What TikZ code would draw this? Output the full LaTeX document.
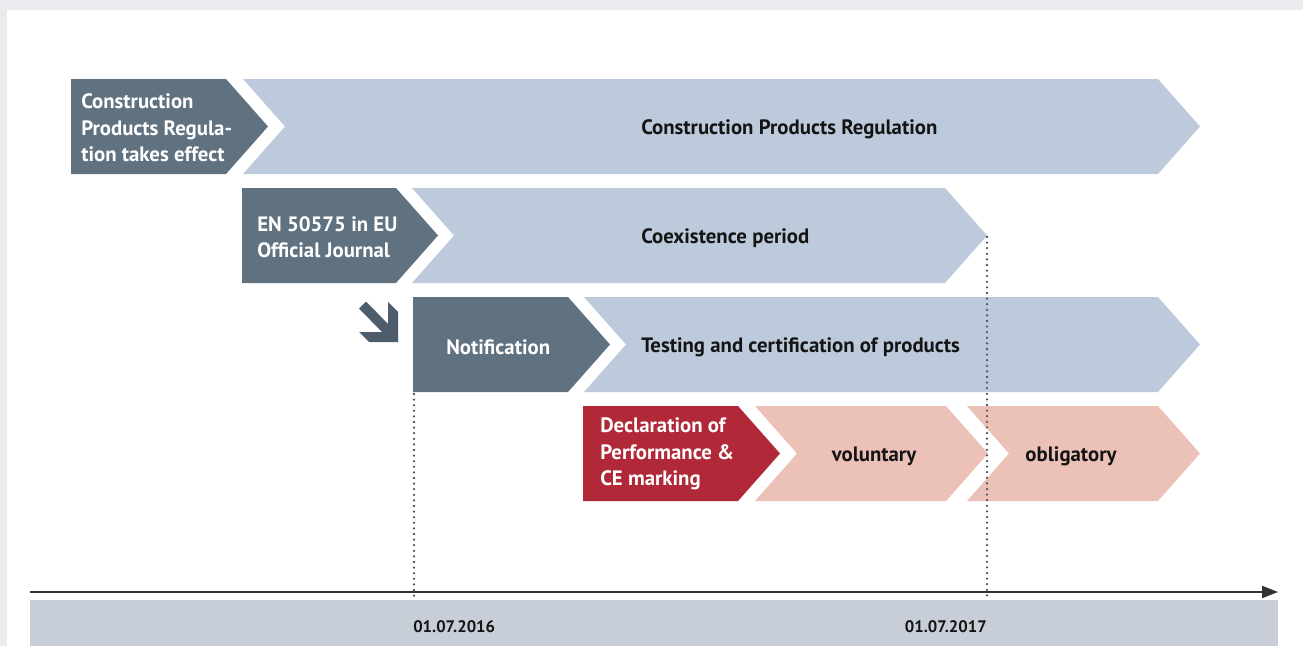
\documentclass[tikz,border=0pt]{standalone}
\usepackage{fontspec}
\setmainfont{PT Sans}
\usetikzlibrary{arrows.meta}

\begin{document}
\begin{tikzpicture}[x=0.75pt,y=0.75pt,yscale=-1,xscale=1,
    darkstep/.style={fill={rgb, 255:red, 96; green, 113; blue, 128 }},
    lightstep/.style={fill={rgb, 255:red, 189; green, 202; blue, 219 }},
    redstep/.style={fill={rgb, 255:red, 177; green, 41; blue, 56 }},
    pinkstep/.style={fill={rgb, 255:red, 236; green, 193; blue, 184 }},
    whitetxt/.style={inner sep=0.75pt, align=left, text=white, font=\fontsize{15.6}{19.8}\selectfont\bfseries},
    blacktxt/.style={inner sep=0.75pt, text={rgb, 255:red, 20; green, 20; blue, 20 }, font=\fontsize{15.6}{19.8}\selectfont\bfseries},
    datetxt/.style={inner sep=0pt, text={rgb, 255:red, 20; green, 20; blue, 20 }, font=\fontsize{12.5}{15}\selectfont\bfseries},
    guide/.style={draw={rgb, 255:red, 74; green, 86; blue, 102 }, line width=1.9pt, line cap=round, dash pattern=on 0pt off 4.2pt},
    timeaxis/.style={draw={rgb, 255:red, 51; green, 51; blue, 51 }, line width=1.5pt, -{Triangle[length=12pt,width=9pt]}}
  ]
  \useasboundingbox (0,0) rectangle (1303,646);

  %Shape: Rectangle [background]
  \fill [fill={rgb, 255:red, 233; green, 235; blue, 239 }] (0,0) rectangle (1303,646);
  \fill [white] (7,10) rectangle (1303,646);

  %Shape: Polygon [row 1]
  \fill [darkstep] (71,79) -- (226,79) -- (268,126.5) -- (226,174) -- (71,174) -- cycle ;
  \fill [lightstep] (243,79) -- (1158,79) -- (1200,126.5) -- (1158,174) -- (243,174) -- (285,126.5) -- cycle ;
  %Shape: Polygon [row 2]
  \fill [darkstep] (242,188) -- (396,188) -- (438,235.5) -- (396,283) -- (242,283) -- cycle ;
  \fill [lightstep] (412,188) -- (945,188) -- (987,235.5) -- (945,283) -- (412,283) -- (454,235.5) -- cycle ;
  %Shape: Polygon [row 3]
  \fill [darkstep] (413,297) -- (568,297) -- (610,344.5) -- (568,392) -- (413,392) -- cycle ;
  \fill [lightstep] (584,297) -- (1158,297) -- (1200,344.5) -- (1158,392) -- (584,392) -- (626,344.5) -- cycle ;
  %Shape: Polygon [row 4]
  \fill [redstep] (583,406) -- (738,406) -- (780,453.5) -- (738,501) -- (583,501) -- cycle ;
  \fill [pinkstep] (755,406) -- (946,406) -- (988,453.5) -- (946,501) -- (755,501) -- (797,453.5) -- cycle ;
  \fill [pinkstep] (967,406) -- (1158,406) -- (1200,453.5) -- (1158,501) -- (967,501) -- (1009,453.5) -- cycle ;

  %Shape: Polygon [small arrow]
  \fill [fill={rgb, 255:red, 78; green, 93; blue, 108 }] (359,308.5) -- (382,332) -- (359,332) -- (369,342) -- (398,342) -- (398,312) -- (388,302) -- (388,324) -- (366,301.5) -- cycle ;

  %Shape: Rectangle [time bar]
  \fill [fill={rgb, 255:red, 199; green, 206; blue, 216 }] (30,600) rectangle (1278,646);

  %Straight Lines [dotted guides]
  \coordinate (notifyfoot) at (414,394);
  \coordinate (coexend) at (987,237);
  \coordinate (mark1) at (414,600);
  \coordinate (mark2) at (987,600);
  \draw [guide] (notifyfoot) -- (mark1) ;
  \draw [guide] (coexend) -- (mark2) ;

  %Straight Lines [time axis]
  \coordinate (axisstart) at (30,592);
  \coordinate (axisend) at (1278,592);
  \draw [timeaxis] (axisstart) -- (axisend) ;

  % Text Node
  \draw (80,128) node (cprstart) [anchor=west][whitetxt] {Construction\\Products Regula-\\tion takes effect};
  % Text Node
  \draw (640,129) node (cprlabel) [anchor=west][blacktxt] {Construction Products Regulation};
  % Text Node
  \draw (256,237.5) node (enjournal) [anchor=west][whitetxt] {EN 50575 in EU\\Official Journal};
  % Text Node
  \draw (640,238) node (coexlabel) [anchor=west][blacktxt] {Coexistence period};
  % Text Node
  \draw (445,347) node (notifylabel) [anchor=west][whitetxt] {Notification};
  % Text Node
  \draw (640,347) node (testlabel) [anchor=west][blacktxt] {Testing and certification of products};
  % Text Node
  \draw (599,454) node (doplabel) [anchor=west][whitetxt] {Declaration of\\Performance \&\\CE marking};
  % Text Node
  \draw (874,456) node (vollabel) [blacktxt] {voluntary};
  % Text Node
  \draw (1071,456) node (obllabel) [blacktxt] {obligatory};
  % Text Node
  \draw (413,627) node (date1) [anchor=west][datetxt] {01.07.2016};
  % Text Node
  \draw (987,627) node (date2) [anchor=east][datetxt] {01.07.2017};

\end{tikzpicture}
\end{document}
